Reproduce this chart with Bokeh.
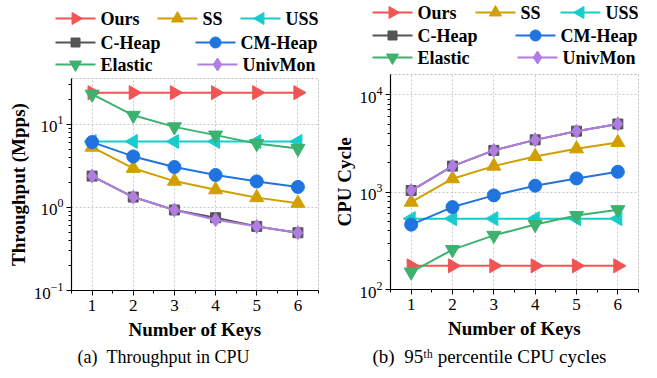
import math
from bokeh.plotting import figure
from bokeh.layouts import row, column
from bokeh.models import Range1d, FixedTicker, Title
from bokeh.core.properties import value
from bokeh.embed import file_html
from bokeh.resources import INLINE

keys = [1, 2, 3, 4, 5, 6]
x_ticks = [1, 2, 3, 4, 5, 6]

series_names = ["Ours", "SS", "USS", "C-Heap", "CM-Heap", "Elastic", "UnivMon"]

# Throughput in CPU (Mpps)
tp_ours = [24, 24, 24, 24, 24, 24]
tp_ss = [5.3, 2.95, 2.07, 1.63, 1.31, 1.12]
tp_uss = [6.2, 6.2, 6.2, 6.2, 6.2, 6.2]
tp_cheap = [2.38, 1.33, 0.93, 0.75, 0.59, 0.495]
tp_cmheap = [6.1, 4.1, 3.06, 2.45, 2.05, 1.76]
tp_elastic = [23, 12.8, 9.3, 7.4, 5.85, 5.1]
tp_univmon = [2.38, 1.33, 0.93, 0.71, 0.59, 0.495]

# 95th percentile CPU cycles
cyc_ours = [175, 175, 175, 175, 175, 175]
cyc_ss = [790, 1375, 1854, 2330, 2790, 3240]
cyc_uss = [535, 535, 535, 535, 535, 535]
cyc_cheap = [1040, 1854, 2690, 3450, 4240, 5020]
cyc_cmheap = [464, 703, 927, 1166, 1385, 1620]
cyc_elastic = [151, 257, 360, 465, 575, 660]
cyc_univmon = [1040, 1854, 2690, 3450, 4240, 5020]

tp_series = [tp_ours, tp_ss, tp_uss, tp_cheap, tp_cmheap, tp_elastic, tp_univmon]
cyc_series = [cyc_ours, cyc_ss, cyc_uss, cyc_cheap, cyc_cmheap, cyc_elastic, cyc_univmon]

colors = ["#f25454", "#d19f00", "#19cccc", "#555555", "#1f74e0", "#3bb26e", "#b07ee2"]
markers = ["triangle", "triangle", "triangle", "square", "circle", "inverted_triangle", "diamond"]
angles = [-math.pi / 2, 0, math.pi / 2, 0, 0, 0, 0]
sizes = [14, 14, 14, 10, 13, 14, 14]
leg_sizes = [12, 12, 12, 9, 11, 12, 13]

FONT = "Liberation Serif"


def make_legend_fig(width, height, legend_pos):
    # legend strip above each chart, laid out in pixel units (y grows downward)
    lf = figure(width=width, height=height, output_backend="svg", toolbar_location=None,
                x_range=Range1d(0, width), y_range=Range1d(height, 0),
                x_axis_location=None, y_axis_location=None, frame_align=False,
                min_border=0, min_border_left=0, min_border_right=0,
                min_border_top=0, min_border_bottom=0)
    lf.outline_line_color = None
    lf.xgrid.visible = False
    lf.ygrid.visible = False
    lx = [pos[0] for pos in legend_pos]
    ly = [pos[1] for pos in legend_pos]
    lf.segment(x0=lx, y0=ly, x1=[x + 40 for x in lx], y1=ly, line_color=colors, line_width=2)
    for i in range(len(series_names)):
        lf.scatter(x=[lx[i] + 20], y=[ly[i]], marker=markers[i], angle=angles[i],
                   size=leg_sizes[i], fill_color=colors[i], line_color=colors[i])
    lf.text(x=[x + 45 for x in lx], y=ly, text=series_names, text_baseline="middle",
            text_align="left", text_font=value(FONT), text_font_size="18px",
            text_font_style="bold", text_color="black")
    return lf


def make_fig(width, height, fl, fr, fb, yrange, yticks, yminor, ylabel, series,
             caption, cap_size, cap_offset):
    p = figure(width=width, height=height, output_backend="svg", toolbar_location=None,
               y_axis_type="log", x_range=Range1d(0.5, 6.5), y_range=Range1d(*yrange),
               min_border_left=fl, min_border_right=fr, min_border_top=0,
               min_border_bottom=fb, frame_align=False)
    p.outline_line_color = "#bbbbbb"
    p.outline_line_dash = "2 2"
    p.outline_line_width = 1

    p.xaxis.ticker = FixedTicker(ticks=x_ticks, minor_ticks=[0.5, 1.5, 2.5, 3.5, 4.5, 5.5, 6.5])
    p.yaxis.ticker = FixedTicker(ticks=yticks, minor_ticks=yminor)
    for ax in (p.xaxis[0], p.yaxis[0]):
        ax.axis_line_color = "black"
        ax.axis_line_width = 1.2
        ax.major_tick_line_color = "black"
        ax.minor_tick_line_color = "black"
        ax.major_tick_in = 0
        ax.major_tick_out = 5
        ax.minor_tick_in = 0
        ax.minor_tick_out = 3
        ax.major_label_text_font = FONT
        ax.major_label_text_font_size = "17px"
        ax.major_label_text_color = "black"
        ax.axis_label_text_font = FONT
        ax.axis_label_text_font_size = "19px"
        ax.axis_label_text_font_style = "bold"
        ax.axis_label_text_color = "black"
    p.xaxis.axis_label = "Number of Keys"
    p.yaxis.axis_label = ylabel
    p.xaxis.major_label_standoff = 4
    p.xaxis.axis_label_standoff = 5
    p.yaxis.major_label_standoff = 3
    p.yaxis.axis_label_standoff = 2

    for g in (p.xgrid[0], p.ygrid[0]):
        g.grid_line_color = "#c8c8c8"
        g.grid_line_dash = "2 2"
        g.grid_line_width = 1

    for i in range(len(series_names)):
        vals = series[i]
        p.line(keys, vals, line_color=colors[i], line_width=2)
        p.scatter(keys, vals, marker=markers[i], angle=angles[i], size=sizes[i],
                  fill_color=colors[i], line_color=colors[i])

    cap = Title(text=caption, align="left", text_font=FONT, text_font_size=cap_size,
                text_font_style="normal", text_color="black", standoff=4,
                offset=cap_offset)
    p.add_layout(cap, "below")
    return p


left_legend = [(55, 18), (157, 18), (240, 18), (55, 42), (195, 42), (55, 64), (197, 64)]
right_legend = [(42, 12), (145, 12), (230, 12), (42, 35), (185, 35), (42, 57), (187, 57)]

l1 = make_legend_fig(330, 78, left_legend)
p1 = make_fig(330, 300, 71, 12, 88, (0.1, 35.5), [0.1, 1, 10],
              [0.2, 0.3, 0.4, 0.5, 0.6, 0.7, 0.8, 0.9, 2, 3, 4, 5, 6, 7, 8, 9, 20, 30],
              "Throughput (Mpps)", tp_series, "(a)\u00a0\u00a0Throughput in CPU", "18px", 6)
l2 = make_legend_fig(327, 74, right_legend)
p2 = make_fig(327, 304, 58, 19, 89, (100, 16200), [100, 1000, 10000],
              [200, 300, 400, 500, 600, 700, 800, 900, 2000, 3000, 4000, 5000, 6000,
               7000, 8000, 9000],
              "CPU Cycle", cyc_series, "(b)\u00a0\u00a095\u1d57\u02b0 percentile CPU cycles",
              "19px", -18)

layout = row(column(l1, p1, spacing=0), column(l2, p2, spacing=0), spacing=0)
open("out.html", "w").write(file_html(layout, INLINE))
